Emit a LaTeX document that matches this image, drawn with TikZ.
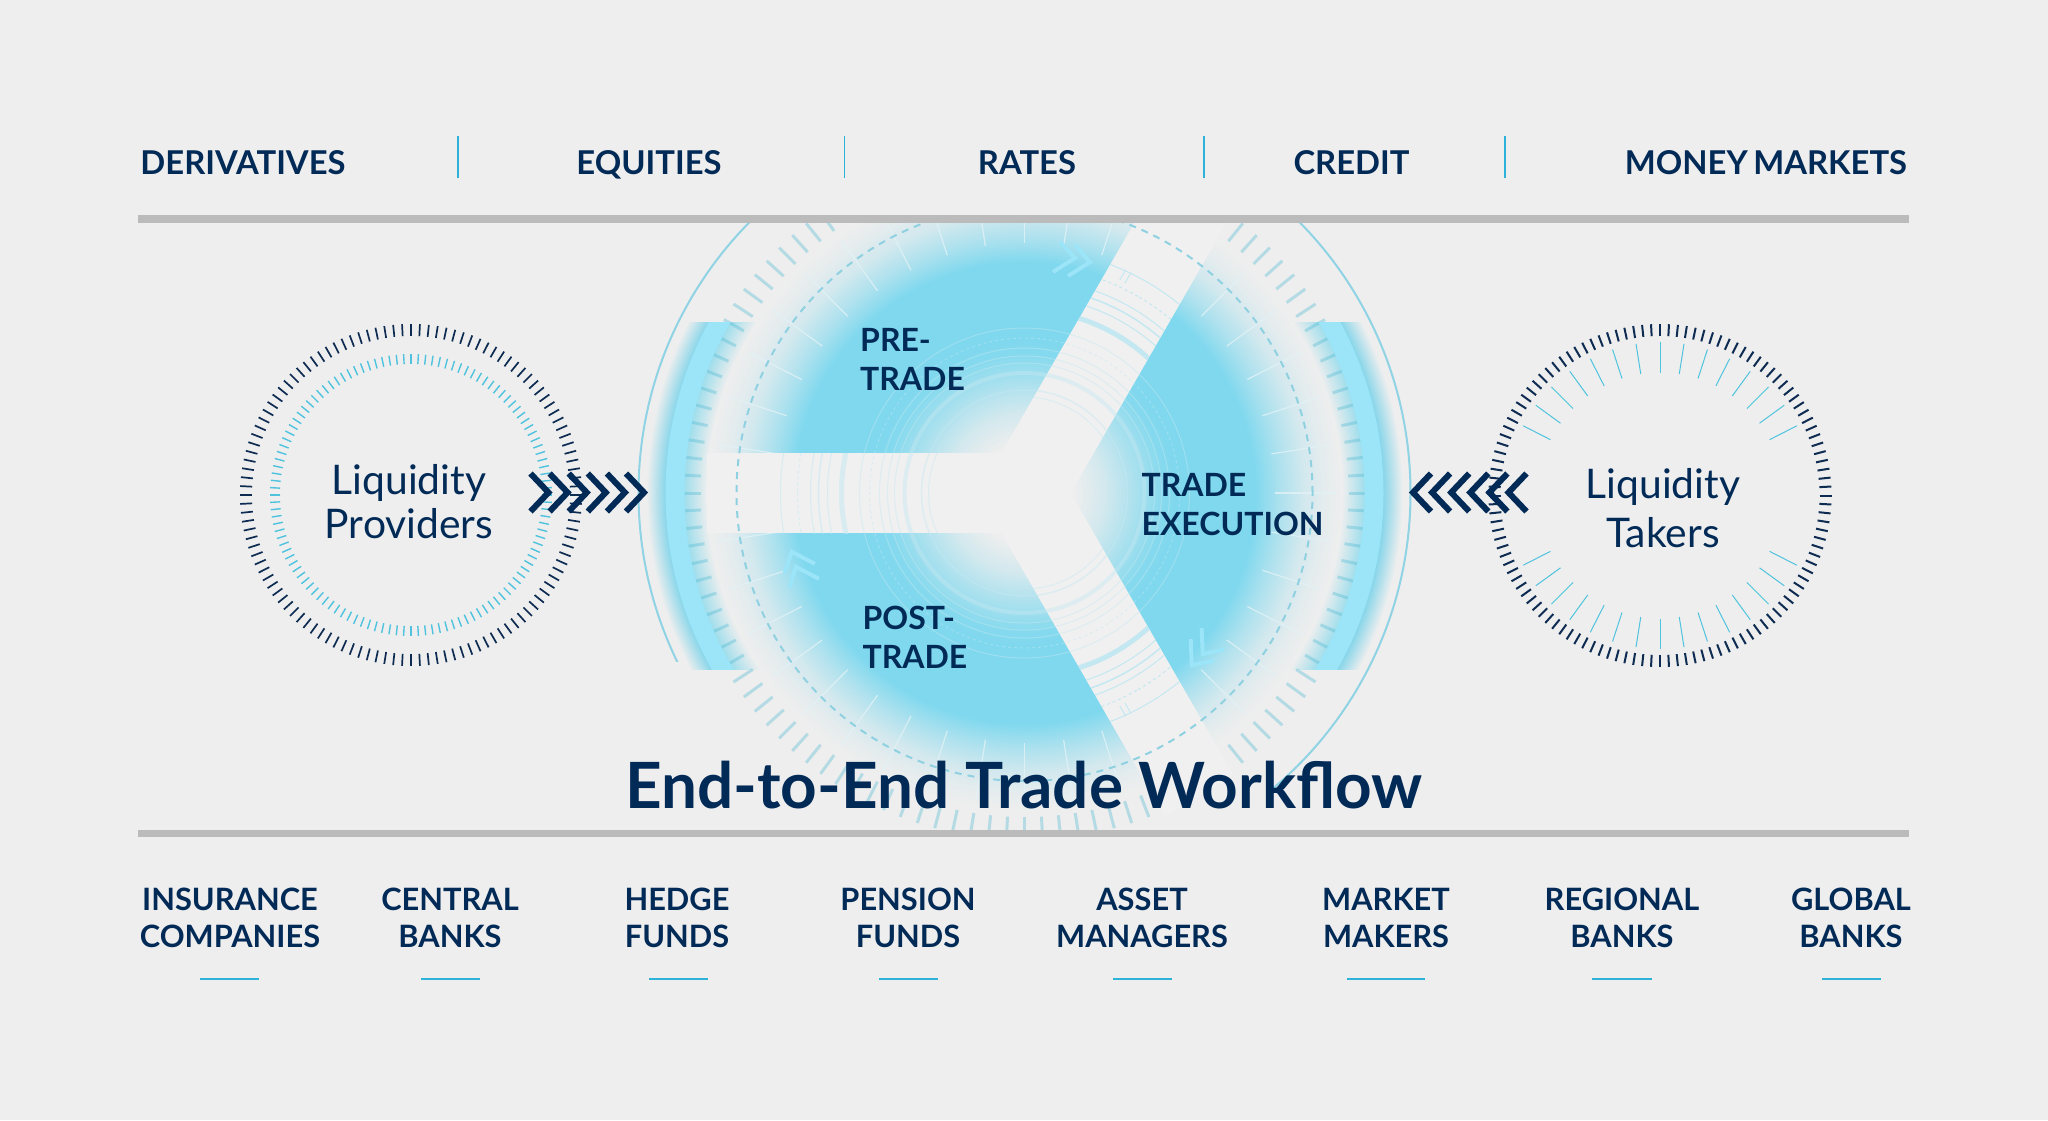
\documentclass[tikz,border=0pt]{standalone}
\usepackage{fontspec}
\setmainfont{Lato}
\usetikzlibrary{calc}
\definecolor{bgc}{HTML}{EEEEEE}
\definecolor{bandc}{HTML}{F0F0F0}
\definecolor{navy}{HTML}{022A57}
\definecolor{bluec}{HTML}{7FD8EE}
\definecolor{solidc}{HTML}{9CE4F7}
\definecolor{glowc}{HTML}{88D6EA}
\definecolor{innerc}{HTML}{A0DEEC}
\definecolor{barc}{HTML}{BBBBBB}
\definecolor{sepc}{HTML}{2DB3D9}
\definecolor{tickc}{HTML}{4FB9D2}
\definecolor{dashc}{HTML}{8FD1E1}
\definecolor{arcc}{HTML}{8FD3E4}
\definecolor{ringc}{HTML}{C4E8F1}
\definecolor{radc}{HTML}{E2F2F6}
\definecolor{darktick}{HTML}{0E2C52}
\definecolor{cyantick}{HTML}{4FC3DE}
\colorlet{bA}{bluec!25!bgc}
\colorlet{bB}{bluec!60!bgc}
\colorlet{bC}{bluec!95!bgc}
\colorlet{bD}{bluec!8!bgc}
\pgfdeclareradialshading{mainglow}{\pgfpoint{0bp}{0bp}}{%
 color(0bp)=(bgc); color(3.9bp)=(bgc); color(6.3bp)=(bA); color(8.65bp)=(bB); color(11bp)=(bC); color(12.2bp)=(bluec);
 color(18.1bp)=(bluec); color(20bp)=(bB); color(22bp)=(bA); color(23.6bp)=(bD); color(25bp)=(bgc); color(50bp)=(bgc)}
\pgfdeclareradialshading{crescent}{\pgfpoint{0bp}{0bp}}{%
 color(0bp)=(bgc); color(21bp)=(bgc); color(22.5bp)=(innerc); color(23.74bp)=(glowc); color(25bp)=(bgc); color(50bp)=(bgc)}
\tikzset{
 toplabel/.style={font=\fontsize{32.8}{38}\selectfont\bfseries,text=navy,anchor=base,inner sep=0pt},
 botlabel/.style={font=\fontsize{30.8}{37}\selectfont\bfseries,text=navy,align=center,anchor=base,inner sep=0pt},
 seclabel/.style={font=\fontsize{32}{38.5}\selectfont\bfseries,text=navy,align=left,anchor=base west,inner sep=0pt},
 sidelabel/.style={font=\fontsize{40.8}{44}\selectfont,text=navy,align=center,anchor=base,inner sep=0pt},
 bar/.style={fill=barc,draw=none},
 sepline/.style={draw=sepc,line width=1.8pt},
 underl/.style={draw=sepc,line width=2.4pt},
 chev/.style={draw=navy,line width=6pt,miter limit=6},
 softchev/.style={draw=solidc,line width=4pt},
 ring/.style={draw=ringc,line width=#1},
 ring/.default=1pt,
}
\begin{document}
\begin{tikzpicture}[x=1pt,y=-1pt]
\useasboundingbox (0,0) rectangle (2048,1120);
\fill[bgc] (0,0) rectangle (2048,1120);
\coordinate (C) at (1024.5,493);

% central disc, kept between the two bars
\begin{scope}
 \clip (0,222) rectangle (2048,829);
 % crescents behind the disc
 \begin{scope}
  \clip (600,322) rectangle (1450,669);
  \shade[shading=crescent] (C) circle[radius=378pt];
 \end{scope}
 \shade[shading=mainglow] (C) circle[radius=318pt];
 \begin{scope}[shift={(C)}]
  \foreach \a in {0,9,...,351} \draw[radc,opacity=.8,line width=1.2pt] (\a:250) -- (\a:311);
  \foreach \a in {0,3,...,357} \draw[tickc,opacity=.36,line width=3pt] (\a:324) -- (\a:347);
  \begin{scope}
   \clip (-424.5,-171) rectangle (425.5,176);
   \draw[solidc,line width=19pt] (0,0) circle[radius=349.5pt];
  \end{scope}
  % three bands
  \foreach \a/\len/\op in {60/350/1,-60/350/1,180/318/.55}{
   \begin{scope}[rotate=\a]
    \fill[bandc] (0,-40) rectangle (\len,40);
    \clip (0,-40) rectangle (\len,40);
    \begin{scope}[opacity=\op]
     \foreach \r/\w in {183/5,197/1,206/1.5,214/1,244/1}
       \draw[ring=\w pt] (0,0) circle[radius=\r pt];
     \draw[ring=1pt,dashed] (0,0) circle[radius=227pt];
    \end{scope}
   \end{scope}
  }
  % small dividers on the two slanted bands
  \begin{scope}[rotate=60]
   \draw[ring=1pt] (232,-24) -- (244,-24) (232,-18) -- (244,-18);
  \end{scope}
  \begin{scope}[rotate=-60]
   \draw[ring=1pt] (232,24) -- (244,24) (232,18) -- (244,18);
  \end{scope}
  % rings around the centre
  \begin{scope}[opacity=.45]
   \foreach \r/\w in {96/1,103/1.5,120/4,130/1,137/1,145/1,165/1}
     \draw[ring=\w pt] (0,0) circle[radius=\r pt];
   \draw[ring=1pt,dashed] (0,0) circle[radius=155pt];
  \end{scope}
  \draw[dashc,line width=2pt,dash pattern=on 7pt off 6pt] (0,0) circle[radius=288pt];
  % faint double chevrons
  \foreach \a in {0,-120,-240}{
   \begin{scope}[rotate=\a]
    \draw[softchev] (35.5,-251) -- (50.5,-235) -- (28.5,-221);
    \draw[softchev] (50.5,-248) -- (65.5,-231) -- (43.5,-217);
   \end{scope}
  }
 \end{scope}
 % outer hairline arcs
 \begin{scope}
  \clip (600,222) rectangle (1024,661);
  \draw[arcc,line width=2pt] (C) circle[radius=386pt];
 \end{scope}
 \begin{scope}
  \clip (1025,222) rectangle (1450,790);
  \draw[arcc,line width=2pt] (C) circle[radius=386pt];
 \end{scope}
\end{scope}

% bars
\fill[bar] (138,214.5) rectangle (1909,222.5);
\fill[bar] (138,829.5) rectangle (1909,836.5);

% left gauge
\coordinate (LP) at (411,495);
\begin{scope}[shift={(LP)}]
 \foreach \a in {0,3,...,357}{
  \draw[darktick,line width=1.7pt] (\a:159) -- (\a:171);
  \draw[cyantick,line width=1.4pt] (\a:131) -- (\a:141);
 }
\end{scope}
% right gauge
\coordinate (LT) at (1660,495.5);
\begin{scope}[shift={(LT)}]
 \foreach \a in {0,3,...,357}
  \draw[darktick,line width=2pt] (\a:159.5) -- (\a:171.5);
 \foreach \a in {-63,-54,...,63}{
  \draw[cyantick,line width=1pt] ({\a-90}:123) -- ({\a-90}:153.5);
  \draw[cyantick,line width=1pt] ({\a+90}:123) -- ({\a+90}:153.5);
 }
\end{scope}

% chevrons
\foreach \k in {0,...,5}{
 \draw[chev] ({644-\k*19.1-18},473.5) -- ({644-\k*19.1},492.5) -- ({644-\k*19.1-18},511.5);
 \draw[chev] ({1413+\k*19.1+18},473.5) -- ({1413+\k*19.1},492.5) -- ({1413+\k*19.1+18},511.5);
}

% separators
\draw[sepline] (458,136) -- (458,178);
\draw[sepline] (844.5,136) -- (844.5,178);
\draw[sepline] (1204,136) -- (1204,178);
\draw[sepline] (1504.6,136) -- (1504.6,178);

% underlines
\foreach \xa/\xb in {200/259,421/480,649/708,879/938,1113/1172,1347/1425,1592/1652,1822/1881}
 \draw[underl] (\xa,979) -- (\xb,979);

% top labels
\node[toplabel] (t1) at (243,174.5) {DERIVATIVES};
\node[toplabel] (t2) at (649,174.5) {EQUITIES};
\node[toplabel] (t3) at (1027,174.5) {RATES};
\node[toplabel] (t4) at (1351.5,174.5) {CREDIT};
\node[toplabel] (t5) at (1766,174.5) {MONEY\hspace{-2.5pt} MARKETS};

% bottom labels
\node[botlabel] (b1) at (230,947) {INSURANCE\\COMPANIES};
\node[botlabel] (b2) at (450,947) {CENTRAL\\BANKS};
\node[botlabel] (b3) at (677,947) {HEDGE\\FUNDS};
\node[botlabel] (b4) at (908,947) {PENSION\\FUNDS};
\node[botlabel] (b5) at (1142,947) {ASSET\\MANAGERS};
\node[botlabel] (b6) at (1386,947) {MARKET\\MAKERS};
\node[botlabel] (b7) at (1622,947) {REGIONAL\\BANKS};
\node[botlabel] (b8) at (1851,947) {GLOBAL\\BANKS};

% sector labels
\node[seclabel] (s1) at (860,390) {PRE-\\TRADE};
\node[seclabel] (s2) at (1141.4,535) {TRADE\\EXECUTION};
\node[seclabel] (s3) at (862.4,668) {POST-\\TRADE};

% gauges' labels
\node[sidelabel] (lp) at (409,538) {Liquidity\\Providers};
\node[sidelabel] (lt) at (1663,547.5) {Liquidity\\[5pt]Takers};

% title
\node[font=\fontsize{63.8}{70}\selectfont\bfseries,text=navy,anchor=base,inner sep=0pt] (title) at (1024,808.5) {End-to-End Trade Workflow};
\end{tikzpicture}
\end{document}
